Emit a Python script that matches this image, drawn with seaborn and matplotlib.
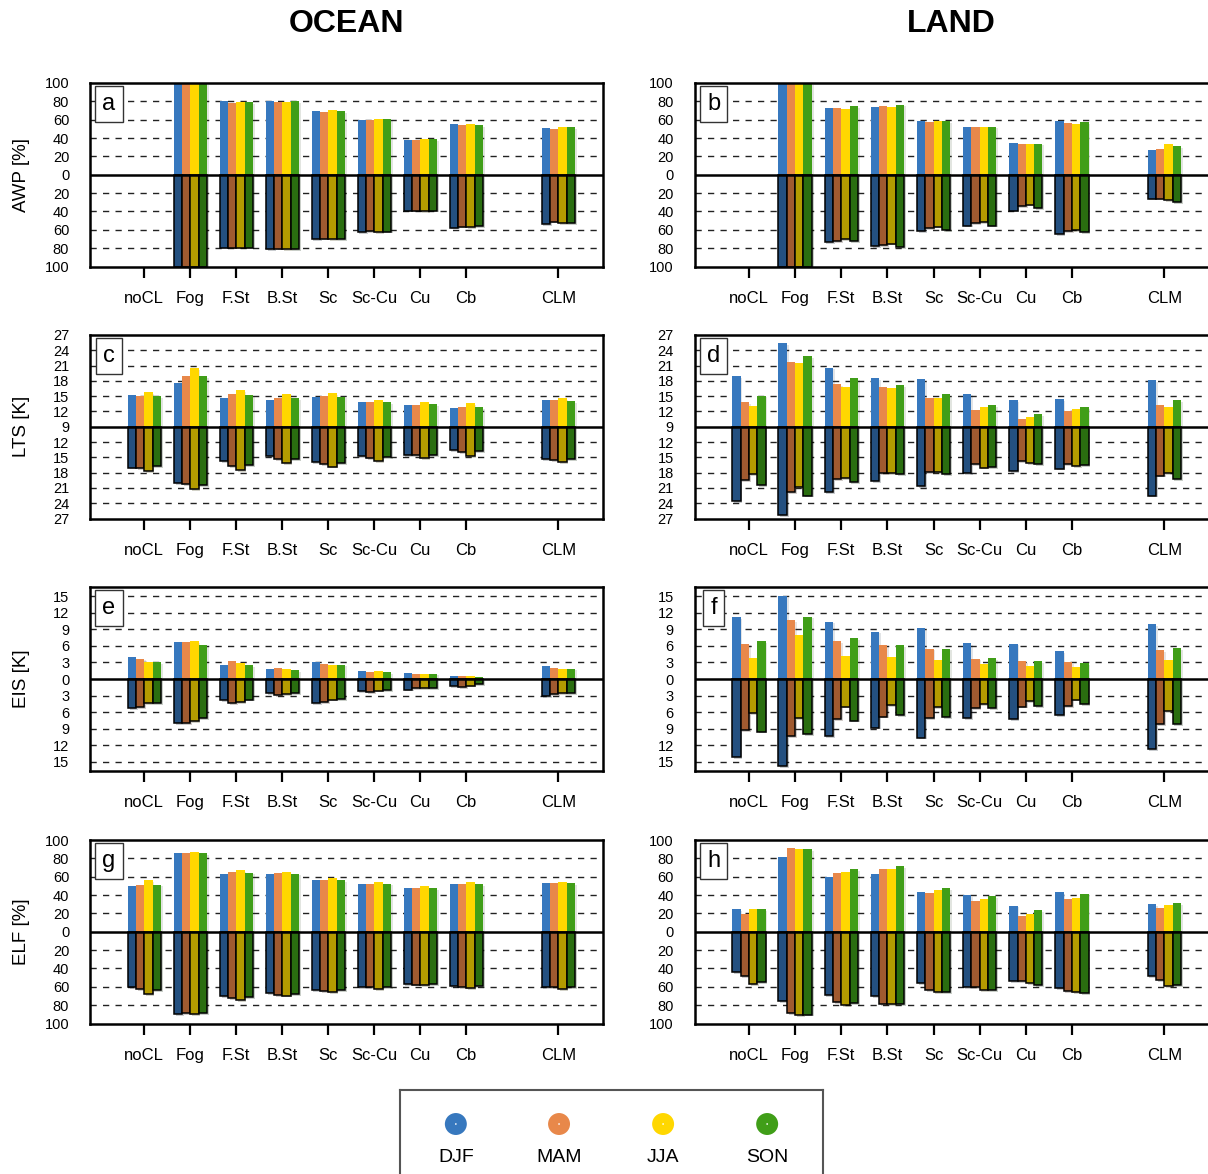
import matplotlib
matplotlib.use("Agg")
import matplotlib.pyplot as plt
import matplotlib.patheffects as pe
import pandas as pd
import seaborn as sns

plt.rcParams["font.family"] = ["Liberation Sans", "DejaVu Sans"]

CLOUD_TYPES = ["noCL", "Fog", "F.St", "B.St", "Sc", "Sc-Cu", "Cu", "Cb", "CLM"]
SEASONS = ["DJF", "MAM", "JJA", "SON"]
# categorical slots on the x axis: an empty slot separates CLM from the cloud types
SLOTS = CLOUD_TYPES[:8] + [" "] + ["CLM"]

UP_COLORS = ["#3778be", "#e8884a", "#ffd700", "#409e18"]
DOWN_COLORS = ["#245080", "#a05a30", "#b49b00", "#2a6e10"]

# rows: DJF, MAM, JJA, SON ; columns follow CLOUD_TYPES
AWP_OCEAN_UP = [
    [None, 100, 80.0, 80.0, 69.0, 60.0, 38.0, 55.0, 51.0],
    [None, 100, 78.5, 79.0, 68.5, 59.5, 37.5, 54.0, 50.0],
    [None, 100, 79.5, 79.0, 70.5, 61.0, 38.5, 55.0, 51.5],
    [None, 100, 79.5, 80.0, 69.5, 60.5, 38.5, 54.5, 51.5],
]
AWP_OCEAN_DOWN = [
    [None, 100, 79.5, 81.0, 70.0, 62.5, 39.0, 57.5, 53.5],
    [None, 100, 79.5, 80.5, 69.5, 61.5, 39.0, 56.5, 51.0],
    [None, 100, 79.5, 81.0, 70.5, 62.5, 39.5, 57.0, 53.0],
    [None, 100, 79.5, 81.0, 70.5, 62.0, 39.0, 56.0, 52.5],
]
AWP_LAND_UP = [
    [None, 100, 72.5, 73.5, 58.5, 52.5, 35.0, 58.5, 26.5],
    [None, 100, 73.0, 74.5, 58.0, 52.0, 34.0, 56.5, 28.5],
    [None, 100, 71.5, 73.5, 58.5, 51.5, 34.0, 55.5, 33.0],
    [None, 100, 74.5, 76.5, 58.5, 52.5, 34.0, 57.0, 31.0],
]
AWP_LAND_DOWN = [
    [None, 100, 73.0, 77.5, 61.5, 55.5, 39.0, 64.5, 26.0],
    [None, 100, 72.0, 77.0, 58.0, 52.5, 34.5, 61.5, 26.0],
    [None, 100, 70.5, 75.0, 56.5, 51.5, 32.5, 60.0, 28.0],
    [None, 100, 72.5, 78.5, 60.0, 55.5, 36.5, 62.5, 29.5],
]

LTS_OCEAN_UP = [
    [15.2, 17.6, 14.7, 14.3, 14.9, 13.8, 13.3, 12.7, 14.2],
    [15.1, 18.9, 15.5, 14.7, 15.0, 13.8, 13.3, 12.9, 14.2],
    [15.8, 20.5, 16.2, 15.5, 15.6, 14.3, 13.8, 13.7, 14.6],
    [15.0, 18.9, 15.2, 14.6, 14.9, 13.9, 13.5, 12.9, 14.1],
]
LTS_OCEAN_DOWN = [
    [17.0, 20.0, 15.7, 14.8, 16.0, 14.8, 14.6, 13.6, 15.4],
    [17.1, 20.2, 16.7, 15.3, 16.3, 15.1, 14.6, 14.0, 15.6],
    [17.7, 21.3, 17.5, 16.1, 16.8, 15.7, 15.1, 14.8, 15.9],
    [16.7, 20.4, 16.5, 15.3, 16.2, 14.9, 14.5, 13.8, 15.4],
]
LTS_LAND_UP = [
    [18.9, 25.4, 20.6, 18.6, 18.3, 15.5, 14.2, 14.5, 18.1],
    [13.9, 21.7, 17.4, 16.8, 14.6, 12.3, 10.5, 12.1, 13.2],
    [13.0, 21.5, 16.8, 16.6, 14.6, 12.8, 10.9, 12.5, 12.8],
    [15.1, 22.8, 18.5, 17.2, 15.4, 13.2, 11.5, 12.8, 14.3],
]
LTS_LAND_DOWN = [
    [23.6, 26.3, 21.8, 19.6, 20.6, 18.1, 17.7, 17.2, 22.5],
    [19.4, 21.8, 19.2, 18.1, 17.9, 16.4, 15.7, 16.3, 18.6],
    [18.3, 20.9, 19.0, 18.1, 17.9, 17.0, 16.1, 16.7, 18.1],
    [20.4, 22.5, 19.9, 18.3, 18.3, 16.9, 16.3, 16.5, 19.3],
]

EIS_OCEAN_UP = [
    [3.9, 6.7, 2.6, 1.8, 3.1, 1.4, 1.1, 0.5, 2.3],
    [3.7, 6.7, 3.2, 2.0, 2.8, 1.3, 1.0, 0.5, 2.0],
    [3.1, 6.8, 2.9, 1.9, 2.6, 1.4, 1.0, 0.6, 1.8],
    [3.1, 6.2, 2.5, 1.6, 2.6, 1.3, 1.0, 0.4, 1.9],
]
EIS_OCEAN_DOWN = [
    [5.3, 7.9, 3.8, 2.5, 4.3, 2.2, 1.9, 1.3, 3.1],
    [5.1, 8.0, 4.4, 2.9, 4.1, 2.3, 1.7, 1.4, 2.7],
    [4.4, 7.6, 4.1, 2.7, 3.7, 2.1, 1.7, 1.2, 2.6],
    [4.4, 7.0, 3.7, 2.5, 3.6, 2.0, 1.6, 0.9, 2.6],
]
EIS_LAND_UP = [
    [11.2, 15.0, 10.4, 8.6, 9.3, 6.5, 6.4, 5.1, 10.0],
    [6.4, 10.6, 6.8, 6.2, 5.5, 3.7, 3.2, 3.1, 5.3],
    [3.8, 7.9, 4.1, 3.9, 3.5, 2.8, 2.3, 2.1, 3.4],
    [6.9, 11.3, 7.4, 6.1, 5.5, 3.8, 3.2, 2.9, 5.6],
]
EIS_LAND_DOWN = [
    [14.1, 15.7, 10.3, 8.8, 10.6, 7.0, 7.2, 6.5, 12.7],
    [9.2, 10.3, 7.3, 6.8, 7.1, 5.3, 5.0, 4.9, 8.2],
    [6.2, 7.0, 5.0, 4.7, 5.1, 4.5, 4.0, 3.7, 5.8],
    [9.5, 10.0, 7.5, 6.5, 6.9, 5.3, 4.9, 4.6, 8.1],
]

ELF_OCEAN_UP = [
    [49.8, 85.5, 62.5, 62.5, 56.0, 52.4, 47.6, 51.6, 53.5],
    [50.5, 85.5, 64.7, 63.6, 56.0, 52.4, 47.6, 51.6, 52.7],
    [56.0, 86.5, 66.9, 64.7, 58.2, 53.8, 49.5, 53.8, 54.5],
    [51.3, 85.8, 64.4, 63.3, 56.0, 52.4, 47.6, 52.0, 53.1],
]
ELF_OCEAN_DOWN = [
    [60.7, 89.5, 69.8, 66.9, 63.6, 60.0, 56.7, 58.9, 60.4],
    [62.5, 88.7, 72.0, 68.7, 64.4, 60.7, 57.5, 60.0, 60.0],
    [67.6, 89.5, 74.2, 69.5, 66.2, 62.2, 58.5, 61.8, 62.5],
    [63.3, 88.7, 71.6, 68.0, 64.0, 60.0, 57.1, 59.6, 60.4],
]
ELF_LAND_UP = [
    [24.7, 81.5, 59.6, 62.5, 43.6, 40.0, 28.4, 42.9, 30.5],
    [19.6, 91.3, 63.6, 68.7, 42.5, 33.1, 17.5, 35.3, 26.2],
    [24.4, 90.5, 64.7, 68.0, 45.8, 35.6, 19.6, 36.7, 28.7],
    [25.1, 90.5, 68.4, 71.3, 47.6, 38.5, 24.0, 40.7, 31.6],
]
ELF_LAND_DOWN = [
    [44.4, 76.0, 68.7, 70.2, 56.4, 60.0, 53.8, 61.1, 48.7],
    [48.4, 88.4, 76.4, 78.5, 63.3, 60.4, 54.2, 64.4, 53.1],
    [57.1, 90.9, 79.6, 78.5, 66.2, 63.3, 56.4, 65.5, 59.6],
    [54.9, 90.2, 77.8, 78.5, 66.2, 63.6, 57.8, 66.9, 58.2],
]

# variable rows: label, baseline, half range, tick step
ROWS = [
    ("AWP [%]", 0, 100.0, 20, (AWP_OCEAN_UP, AWP_OCEAN_DOWN), (AWP_LAND_UP, AWP_LAND_DOWN)),
    ("LTS [K]", 9, 18.0, 3, (LTS_OCEAN_UP, LTS_OCEAN_DOWN), (LTS_LAND_UP, LTS_LAND_DOWN)),
    ("EIS [K]", 0, 16.6, 3, (EIS_OCEAN_UP, EIS_OCEAN_DOWN), (EIS_LAND_UP, EIS_LAND_DOWN)),
    ("ELF [%]", 0, 100.0, 20, (ELF_OCEAN_UP, ELF_OCEAN_DOWN), (ELF_LAND_UP, ELF_LAND_DOWN)),
]
LETTERS = [["a", "b"], ["c", "d"], ["e", "f"], ["g", "h"]]


def bars_frame(series, base, sign):
    rows = []
    for season, values in zip(SEASONS, series):
        for ctype, v in zip(CLOUD_TYPES, values):
            if v is None:
                continue
            rows.append({"type": ctype, "season": season, "height": sign * (v - base)})
    return pd.DataFrame(rows)


W, H = 1208, 1174
fig = plt.figure(figsize=(W / 100, H / 100), dpi=100)

COL_LEFT = [90.0, 694.5]
COL_WIDTH = [513.3, 515.0]
ROW_TOP = [83.0, 335.0, 587.3, 840.0]
ROW_H = 183.5

for r, (label, base, lim, step, ocean, land) in enumerate(ROWS):
    for c, (up_vals, down_vals) in enumerate([ocean, land]):
        ax = fig.add_axes([COL_LEFT[c] / W, 1 - (ROW_TOP[r] + ROW_H) / H,
                           COL_WIDTH[c] / W, ROW_H / H])

        up = bars_frame(up_vals, base, 1)
        down = bars_frame(down_vals, base, -1)

        n0 = len(ax.patches)
        sns.barplot(data=up, x="type", y="height", hue="season", order=SLOTS,
                    hue_order=SEASONS, palette=UP_COLORS, saturation=1, width=0.72,
                    errorbar=None, legend=False, linewidth=0, edgecolor="none",
                    zorder=2, ax=ax)
        n1 = len(ax.patches)
        sns.barplot(data=down, x="type", y="height", hue="season", order=SLOTS,
                    hue_order=SEASONS, palette=DOWN_COLORS, saturation=1, width=0.72,
                    errorbar=None, legend=False, linewidth=1.1, edgecolor="black",
                    zorder=2, ax=ax)
        for i, p in enumerate(ax.patches[n0:]):
            alpha = 0.12 if i < n1 - n0 else 0.22
            p.set_path_effects([pe.SimplePatchShadow(offset=(1.3, -1.3), alpha=alpha),
                                pe.Normal()])

        ax.set_xlabel("")
        ax.set_ylabel("")
        ax.set_xlim(-1.18, 9.98)
        ax.set_ylim(-lim, lim)

        ticks = []
        t = step
        while t <= lim + 1e-9:
            ticks += [t, -t]
            t += step
        ticks = sorted(ticks + [0])
        ax.set_yticks(ticks)
        ax.set_yticklabels([f"{base + abs(t):g}" for t in ticks])
        for t in ticks:
            if t != 0 and abs(t) < lim - 1e-6:
                ax.axhline(t, color="#222222", lw=1.0, ls=(0, (4.5, 4.5)), zorder=1)
        ax.axhline(0, color="black", lw=1.8, zorder=4)

        xpos = [SLOTS.index(ct) for ct in CLOUD_TYPES]
        ax.set_xticks(xpos)
        ax.set_xticklabels(CLOUD_TYPES)
        ax.tick_params(axis="x", length=8, width=1.6, pad=9.5, labelsize=12,
                       direction="out")
        ax.tick_params(axis="y", length=0, pad=15, labelsize=10.5)
        for s in ax.spines.values():
            s.set_linewidth(1.8)
            s.set_color("black")
            s.set_zorder(5)

        ax.text(0.037, 0.885, LETTERS[r][c], transform=ax.transAxes, fontsize=17,
                ha="center", va="center", zorder=6,
                bbox=dict(boxstyle="square,pad=0.3", fc="white", ec="#333333", lw=1.0))

        if c == 0:
            fig.text(21 / W, 1 - (ROW_TOP[r] + ROW_H / 2) / H, label, rotation=90,
                     ha="center", va="center", fontsize=13.5)

fig.text(346.5 / W, 1 - 23.5 / H, "OCEAN", ha="center", va="center",
         fontsize=23, fontweight="bold")
fig.text(951.5 / W, 1 - 23.5 / H, "LAND", ha="center", va="center",
         fontsize=23, fontweight="bold")

# legend panel
lax = fig.add_axes([400 / W, 1 - 1185 / H, 423 / W, 95 / H])
lax.set_xlim(0, 1)
lax.set_ylim(0, 1)
lax.set_xticks([])
lax.set_yticks([])
for s in lax.spines.values():
    s.set_linewidth(1.5)
    s.set_color("#555555")
leg_x = [0.132, 0.376, 0.622, 0.868]
for x, col, name in zip(leg_x, UP_COLORS, SEASONS):
    lax.scatter([x], [0.642], s=250, color=col, edgecolors="none", zorder=2)
    lax.scatter([x], [0.642], s=1.5, color="white", edgecolors="none", zorder=3)
    lax.text(x, 0.29, name, ha="center", va="center", fontsize=14)

fig.savefig("out.png", dpi=100)
